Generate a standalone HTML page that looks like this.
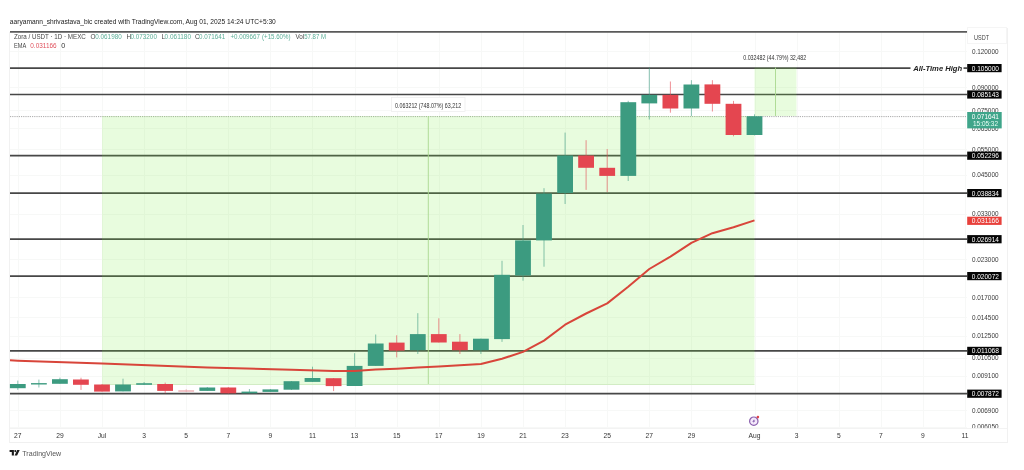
<!DOCTYPE html>
<html><head><meta charset="utf-8"><title>Zora / USDT chart</title>
<style>html,body{margin:0;padding:0;background:#fff;}body{width:1024px;height:470px;position:relative;overflow:hidden;}</style>
</head><body>
<svg width="1024" height="470" viewBox="0 0 1024 470" style="position:absolute;left:0;top:0" font-family="'Liberation Sans', Arial, sans-serif">
<line x1="9.5" y1="32" x2="9.5" y2="443" stroke="#f1f1f1"/>
<line x1="1007.5" y1="28" x2="1007.5" y2="443" stroke="#f1f1f1"/>
<rect x="967.5" y="27.5" width="39" height="16" fill="none" stroke="#f5f5f5"/>
<g stroke="#f7f8f7" stroke-width="1">
<line x1="18.5" y1="32" x2="18.5" y2="428"/>
<line x1="60.5" y1="32" x2="60.5" y2="428"/>
<line x1="102.5" y1="32" x2="102.5" y2="428"/>
<line x1="144.5" y1="32" x2="144.5" y2="428"/>
<line x1="186.5" y1="32" x2="186.5" y2="428"/>
<line x1="228.5" y1="32" x2="228.5" y2="428"/>
<line x1="270.5" y1="32" x2="270.5" y2="428"/>
<line x1="312.5" y1="32" x2="312.5" y2="428"/>
<line x1="355.5" y1="32" x2="355.5" y2="428"/>
<line x1="397.5" y1="32" x2="397.5" y2="428"/>
<line x1="439.5" y1="32" x2="439.5" y2="428"/>
<line x1="481.5" y1="32" x2="481.5" y2="428"/>
<line x1="523.5" y1="32" x2="523.5" y2="428"/>
<line x1="565.5" y1="32" x2="565.5" y2="428"/>
<line x1="607.5" y1="32" x2="607.5" y2="428"/>
<line x1="649.5" y1="32" x2="649.5" y2="428"/>
<line x1="691.5" y1="32" x2="691.5" y2="428"/>
<line x1="755.5" y1="32" x2="755.5" y2="428"/>
<line x1="797.5" y1="32" x2="797.5" y2="428"/>
<line x1="839.5" y1="32" x2="839.5" y2="428"/>
<line x1="881.5" y1="32" x2="881.5" y2="428"/>
<line x1="923.5" y1="32" x2="923.5" y2="428"/>
<line x1="965.5" y1="32" x2="965.5" y2="428"/>
<line x1="10" y1="51.5" x2="967" y2="51.5"/>
<line x1="10" y1="87.5" x2="967" y2="87.5"/>
<line x1="10" y1="110.5" x2="967" y2="110.5"/>
<line x1="10" y1="128.5" x2="967" y2="128.5"/>
<line x1="10" y1="149.5" x2="967" y2="149.5"/>
<line x1="10" y1="175.5" x2="967" y2="175.5"/>
<line x1="10" y1="214.5" x2="967" y2="214.5"/>
<line x1="10" y1="259.5" x2="967" y2="259.5"/>
<line x1="10" y1="297.5" x2="967" y2="297.5"/>
<line x1="10" y1="317.5" x2="967" y2="317.5"/>
<line x1="10" y1="336.5" x2="967" y2="336.5"/>
<line x1="10" y1="358.5" x2="967" y2="358.5"/>
<line x1="10" y1="376.5" x2="967" y2="376.5"/>
<line x1="10" y1="410.5" x2="967" y2="410.5"/>
<line x1="10" y1="427.5" x2="967" y2="427.5"/>
</g>
<line x1="10" y1="116.6" x2="967" y2="116.6" stroke="#aaaaaa" stroke-width="1" stroke-dasharray="1.2 1"/>
<line x1="10" y1="68.1" x2="910.5" y2="68.1" stroke="#474747" stroke-width="1.7"/>
<line x1="963.5" y1="68.1" x2="967" y2="68.1" stroke="#474747" stroke-width="1.7"/>
<line x1="10" y1="94.5" x2="967" y2="94.5" stroke="#474747" stroke-width="1.7"/>
<line x1="10" y1="155.7" x2="967" y2="155.7" stroke="#474747" stroke-width="1.7"/>
<line x1="10" y1="193.1" x2="967" y2="193.1" stroke="#474747" stroke-width="1.7"/>
<line x1="10" y1="239.2" x2="967" y2="239.2" stroke="#474747" stroke-width="1.7"/>
<line x1="10" y1="276.1" x2="967" y2="276.1" stroke="#474747" stroke-width="1.7"/>
<line x1="10" y1="350.9" x2="967" y2="350.9" stroke="#474747" stroke-width="1.7"/>
<line x1="10" y1="393.7" x2="967" y2="393.7" stroke="#474747" stroke-width="1.7"/>
<line x1="10" y1="31.95" x2="967" y2="31.95" stroke="#5a5a5a" stroke-width="1.8"/>
<rect x="102" y="116" width="652.5" height="268.5" fill="rgba(118,240,62,0.17)"/>
<rect x="754.5" y="67.5" width="42" height="48.5" fill="rgba(118,240,62,0.17)"/>
<line x1="102" y1="384.5" x2="754.5" y2="384.5" stroke="#d2ecc4" stroke-width="1"/>
<line x1="428.3" y1="116" x2="428.3" y2="384" stroke="#a9d88f" stroke-width="0.9"/>
<line x1="775.5" y1="67.5" x2="775.5" y2="116" stroke="#a9d88f" stroke-width="0.9"/>
<line x1="17.8" y1="380.6" x2="17.8" y2="389.9" stroke="#3c9b80" stroke-width="1" stroke-opacity="0.6"/>
<rect x="9.9" y="384.0" width="15.8" height="4.2" fill="#3c9b80"/>
<line x1="38.9" y1="379.6" x2="38.9" y2="387.5" stroke="#3c9b80" stroke-width="1" stroke-opacity="0.6"/>
<rect x="31.0" y="383.1" width="15.8" height="1.4" fill="#3c9b80"/>
<line x1="59.9" y1="377.7" x2="59.9" y2="383.8" stroke="#3c9b80" stroke-width="1" stroke-opacity="0.6"/>
<rect x="52.0" y="379.2" width="15.8" height="4.6" fill="#3c9b80"/>
<line x1="81.0" y1="377.7" x2="81.0" y2="389.9" stroke="#e44650" stroke-width="1" stroke-opacity="0.6"/>
<rect x="73.0" y="379.5" width="15.8" height="5.3" fill="#e44650"/>
<line x1="102.0" y1="384.0" x2="102.0" y2="391.6" stroke="#e44650" stroke-width="1" stroke-opacity="0.6"/>
<rect x="94.1" y="384.5" width="15.8" height="7.1" fill="#e44650"/>
<line x1="123.0" y1="378.7" x2="123.0" y2="391.4" stroke="#3c9b80" stroke-width="1" stroke-opacity="0.6"/>
<rect x="115.1" y="384.5" width="15.8" height="6.9" fill="#3c9b80"/>
<line x1="144.1" y1="382.0" x2="144.1" y2="385.0" stroke="#3c9b80" stroke-width="1" stroke-opacity="0.6"/>
<rect x="136.2" y="383.2" width="15.8" height="1.6" fill="#3c9b80"/>
<line x1="165.2" y1="382.6" x2="165.2" y2="393.3" stroke="#e44650" stroke-width="1" stroke-opacity="0.6"/>
<rect x="157.2" y="384.0" width="15.8" height="6.9" fill="#e44650"/>
<line x1="186.2" y1="389.0" x2="186.2" y2="392.0" stroke="#e9a0a6" stroke-width="1" stroke-opacity="0.6"/>
<rect x="178.3" y="390.4" width="15.8" height="1.2" fill="#e9a0a6"/>
<line x1="207.3" y1="387.0" x2="207.3" y2="391.0" stroke="#3c9b80" stroke-width="1" stroke-opacity="0.6"/>
<rect x="199.4" y="387.5" width="15.8" height="3.4" fill="#3c9b80"/>
<line x1="228.3" y1="387.0" x2="228.3" y2="393.5" stroke="#e44650" stroke-width="1" stroke-opacity="0.6"/>
<rect x="220.4" y="387.5" width="15.8" height="5.8" fill="#e44650"/>
<line x1="249.4" y1="389.0" x2="249.4" y2="393.3" stroke="#3c9b80" stroke-width="1" stroke-opacity="0.6"/>
<rect x="241.5" y="391.6" width="15.8" height="1.7" fill="#3c9b80"/>
<line x1="270.4" y1="389.0" x2="270.4" y2="392.0" stroke="#3c9b80" stroke-width="1" stroke-opacity="0.6"/>
<rect x="262.5" y="389.4" width="15.8" height="2.5" fill="#3c9b80"/>
<line x1="291.5" y1="381.0" x2="291.5" y2="390.0" stroke="#3c9b80" stroke-width="1" stroke-opacity="0.6"/>
<rect x="283.6" y="381.2" width="15.8" height="8.5" fill="#3c9b80"/>
<line x1="312.5" y1="366.7" x2="312.5" y2="382.0" stroke="#3c9b80" stroke-width="1" stroke-opacity="0.6"/>
<rect x="304.6" y="378.0" width="15.8" height="3.9" fill="#3c9b80"/>
<line x1="333.6" y1="378.0" x2="333.6" y2="391.1" stroke="#e44650" stroke-width="1" stroke-opacity="0.6"/>
<rect x="325.7" y="378.2" width="15.8" height="7.9" fill="#e44650"/>
<line x1="354.6" y1="353.2" x2="354.6" y2="386.0" stroke="#3c9b80" stroke-width="1" stroke-opacity="0.6"/>
<rect x="346.7" y="365.9" width="15.8" height="20.1" fill="#3c9b80"/>
<line x1="375.7" y1="334.5" x2="375.7" y2="366.0" stroke="#3c9b80" stroke-width="1" stroke-opacity="0.6"/>
<rect x="367.8" y="343.5" width="15.8" height="22.4" fill="#3c9b80"/>
<line x1="396.7" y1="335.3" x2="396.7" y2="357.4" stroke="#e44650" stroke-width="1" stroke-opacity="0.6"/>
<rect x="388.8" y="342.6" width="15.8" height="8.0" fill="#e44650"/>
<line x1="417.8" y1="313.2" x2="417.8" y2="354.0" stroke="#3c9b80" stroke-width="1" stroke-opacity="0.6"/>
<rect x="409.9" y="334.1" width="15.8" height="16.1" fill="#3c9b80"/>
<line x1="438.8" y1="318.3" x2="438.8" y2="342.5" stroke="#e44650" stroke-width="1" stroke-opacity="0.6"/>
<rect x="430.9" y="334.1" width="15.8" height="8.4" fill="#e44650"/>
<line x1="459.9" y1="334.1" x2="459.9" y2="354.0" stroke="#e44650" stroke-width="1" stroke-opacity="0.6"/>
<rect x="452.0" y="341.7" width="15.8" height="8.5" fill="#e44650"/>
<line x1="480.9" y1="338.7" x2="480.9" y2="354.0" stroke="#3c9b80" stroke-width="1" stroke-opacity="0.6"/>
<rect x="473.0" y="338.7" width="15.8" height="11.5" fill="#3c9b80"/>
<line x1="502.0" y1="260.8" x2="502.0" y2="341.9" stroke="#3c9b80" stroke-width="1" stroke-opacity="0.6"/>
<rect x="494.1" y="274.8" width="15.8" height="64.3" fill="#3c9b80"/>
<line x1="523.0" y1="225.0" x2="523.0" y2="280.7" stroke="#3c9b80" stroke-width="1" stroke-opacity="0.6"/>
<rect x="515.1" y="240.4" width="15.8" height="35.1" fill="#3c9b80"/>
<line x1="544.0" y1="188.2" x2="544.0" y2="266.7" stroke="#3c9b80" stroke-width="1" stroke-opacity="0.6"/>
<rect x="536.1" y="193.6" width="15.8" height="46.8" fill="#3c9b80"/>
<line x1="565.1" y1="132.6" x2="565.1" y2="204.0" stroke="#3c9b80" stroke-width="1" stroke-opacity="0.6"/>
<rect x="557.2" y="155.5" width="15.8" height="37.4" fill="#3c9b80"/>
<line x1="586.1" y1="140.2" x2="586.1" y2="189.9" stroke="#e44650" stroke-width="1" stroke-opacity="0.6"/>
<rect x="578.2" y="155.5" width="15.8" height="12.3" fill="#e44650"/>
<line x1="607.2" y1="149.0" x2="607.2" y2="192.1" stroke="#e44650" stroke-width="1" stroke-opacity="0.6"/>
<rect x="599.3" y="167.8" width="15.8" height="8.1" fill="#e44650"/>
<line x1="628.2" y1="100.8" x2="628.2" y2="181.0" stroke="#3c9b80" stroke-width="1" stroke-opacity="0.6"/>
<rect x="620.4" y="102.2" width="15.8" height="73.7" fill="#3c9b80"/>
<line x1="649.3" y1="67.5" x2="649.3" y2="119.5" stroke="#3c9b80" stroke-width="1" stroke-opacity="0.6"/>
<rect x="641.4" y="94.9" width="15.8" height="8.5" fill="#3c9b80"/>
<line x1="670.4" y1="81.5" x2="670.4" y2="112.7" stroke="#e44650" stroke-width="1" stroke-opacity="0.6"/>
<rect x="662.5" y="94.9" width="15.8" height="13.6" fill="#e44650"/>
<line x1="691.4" y1="80.2" x2="691.4" y2="116.1" stroke="#3c9b80" stroke-width="1" stroke-opacity="0.6"/>
<rect x="683.5" y="84.5" width="15.8" height="24.0" fill="#3c9b80"/>
<line x1="712.4" y1="80.2" x2="712.4" y2="111.5" stroke="#e44650" stroke-width="1" stroke-opacity="0.6"/>
<rect x="704.5" y="84.4" width="15.8" height="19.4" fill="#e44650"/>
<line x1="733.5" y1="100.9" x2="733.5" y2="136.3" stroke="#e44650" stroke-width="1" stroke-opacity="0.6"/>
<rect x="725.6" y="103.8" width="15.8" height="31.2" fill="#e44650"/>
<line x1="754.5" y1="114.3" x2="754.5" y2="135.4" stroke="#3c9b80" stroke-width="1" stroke-opacity="0.6"/>
<rect x="746.6" y="116.2" width="15.8" height="18.8" fill="#3c9b80"/>
<polyline points="10.0,360.3 17.8,360.7 102.0,363.4 207.3,367.4 291.5,369.7 333.6,371.0 354.6,371.1 375.7,369.6 396.7,368.7 417.8,367.6 438.8,366.6 459.9,365.3 480.9,364.0 502.0,358.8 523.0,351.9 544.0,340.6 565.1,324.7 586.1,313.5 607.2,303.4 628.2,286.8 649.3,269.0 670.4,256.7 691.4,242.9 712.4,233.2 733.5,227.3 754.5,220.4" fill="none" stroke="#d8453a" stroke-width="2.0" stroke-linejoin="round"/>
<text x="998.5" y="53.8" font-size="6.9" fill="#3a3a3a" text-anchor="end" textLength="26.6" lengthAdjust="spacingAndGlyphs" >0.120000</text>
<text x="998.5" y="90.0" font-size="6.9" fill="#3a3a3a" text-anchor="end" textLength="26.6" lengthAdjust="spacingAndGlyphs" >0.090000</text>
<text x="998.5" y="112.9" font-size="6.9" fill="#3a3a3a" text-anchor="end" textLength="26.6" lengthAdjust="spacingAndGlyphs" >0.075000</text>
<text x="998.5" y="130.9" font-size="6.9" fill="#3a3a3a" text-anchor="end" textLength="26.6" lengthAdjust="spacingAndGlyphs" >0.065000</text>
<text x="998.5" y="151.9" font-size="6.9" fill="#3a3a3a" text-anchor="end" textLength="26.6" lengthAdjust="spacingAndGlyphs" >0.055000</text>
<text x="998.5" y="177.1" font-size="6.9" fill="#3a3a3a" text-anchor="end" textLength="26.6" lengthAdjust="spacingAndGlyphs" >0.045000</text>
<text x="998.5" y="216.1" font-size="6.9" fill="#3a3a3a" text-anchor="end" textLength="26.6" lengthAdjust="spacingAndGlyphs" >0.033000</text>
<text x="998.5" y="261.5" font-size="6.9" fill="#3a3a3a" text-anchor="end" textLength="26.6" lengthAdjust="spacingAndGlyphs" >0.023000</text>
<text x="998.5" y="299.5" font-size="6.9" fill="#3a3a3a" text-anchor="end" textLength="26.6" lengthAdjust="spacingAndGlyphs" >0.017000</text>
<text x="998.5" y="319.5" font-size="6.9" fill="#3a3a3a" text-anchor="end" textLength="26.6" lengthAdjust="spacingAndGlyphs" >0.014500</text>
<text x="998.5" y="338.1" font-size="6.9" fill="#3a3a3a" text-anchor="end" textLength="26.6" lengthAdjust="spacingAndGlyphs" >0.012500</text>
<text x="998.5" y="360.0" font-size="6.9" fill="#3a3a3a" text-anchor="end" textLength="26.6" lengthAdjust="spacingAndGlyphs" >0.010500</text>
<text x="998.5" y="378.0" font-size="6.9" fill="#3a3a3a" text-anchor="end" textLength="26.6" lengthAdjust="spacingAndGlyphs" >0.009100</text>
<text x="998.5" y="412.8" font-size="6.9" fill="#3a3a3a" text-anchor="end" textLength="26.6" lengthAdjust="spacingAndGlyphs" >0.006900</text>
<text x="998.5" y="429.3" font-size="6.9" fill="#3a3a3a" text-anchor="end" textLength="26.6" lengthAdjust="spacingAndGlyphs" >0.006050</text>
<text x="981.5" y="39.9" font-size="6.6" fill="#444" text-anchor="middle" textLength="15" lengthAdjust="spacingAndGlyphs" >USDT</text>
<rect x="967.2" y="64.0" width="34.4" height="8.2" fill="#050505"/>
<text x="999" y="70.6" font-size="6.9" fill="#fff" text-anchor="end" textLength="27.2" lengthAdjust="spacingAndGlyphs" >0.105000</text>
<rect x="967.2" y="90.4" width="34.4" height="8.2" fill="#050505"/>
<text x="999" y="97.0" font-size="6.9" fill="#fff" text-anchor="end" textLength="27.2" lengthAdjust="spacingAndGlyphs" >0.085143</text>
<rect x="967.2" y="151.6" width="34.4" height="8.2" fill="#050505"/>
<text x="999" y="158.2" font-size="6.9" fill="#fff" text-anchor="end" textLength="27.2" lengthAdjust="spacingAndGlyphs" >0.052296</text>
<rect x="967.2" y="189.0" width="34.4" height="8.2" fill="#050505"/>
<text x="999" y="195.6" font-size="6.9" fill="#fff" text-anchor="end" textLength="27.2" lengthAdjust="spacingAndGlyphs" >0.038834</text>
<rect x="967.2" y="235.1" width="34.4" height="8.2" fill="#050505"/>
<text x="999" y="241.7" font-size="6.9" fill="#fff" text-anchor="end" textLength="27.2" lengthAdjust="spacingAndGlyphs" >0.026914</text>
<rect x="967.2" y="272.0" width="34.4" height="8.2" fill="#050505"/>
<text x="999" y="278.6" font-size="6.9" fill="#fff" text-anchor="end" textLength="27.2" lengthAdjust="spacingAndGlyphs" >0.020072</text>
<rect x="967.2" y="346.8" width="34.4" height="8.2" fill="#050505"/>
<text x="999" y="353.4" font-size="6.9" fill="#fff" text-anchor="end" textLength="27.2" lengthAdjust="spacingAndGlyphs" >0.011068</text>
<rect x="967.2" y="389.6" width="34.4" height="8.2" fill="#050505"/>
<text x="999" y="396.2" font-size="6.9" fill="#fff" text-anchor="end" textLength="27.2" lengthAdjust="spacingAndGlyphs" >0.007872</text>
<rect x="967.2" y="216.7" width="34.4" height="8.2" fill="#e8403b"/>
<text x="999" y="223.3" font-size="6.9" fill="#fff" text-anchor="end" textLength="27.2" lengthAdjust="spacingAndGlyphs" >0.031166</text>
<rect x="967.2" y="112" width="34.5" height="16.4" fill="#3fa58a"/>
<text x="999" y="118.9" font-size="6.9" fill="#fff" text-anchor="end" textLength="27.2" lengthAdjust="spacingAndGlyphs" >0.071641</text>
<text x="998" y="126.2" font-size="6.9" fill="#e8fff6" text-anchor="end" textLength="25" lengthAdjust="spacingAndGlyphs" >15:05:32</text>
<text x="913.2" y="70.6" font-size="7.6" fill="#222" text-anchor="start" textLength="49" lengthAdjust="spacingAndGlyphs" font-weight="bold" font-style="italic">All-Time High</text>
<rect x="391.5" y="97.5" width="73.5" height="14" fill="#fff" stroke="#eeeeee" stroke-width="0.8"/>
<text x="395.1" y="108.2" font-size="6.3" fill="#333" text-anchor="start" textLength="66" lengthAdjust="spacingAndGlyphs" >0.063212 (748.07%) 63,212</text>
<text x="743.2" y="59.6" font-size="6.3" fill="#333" text-anchor="start" textLength="63" lengthAdjust="spacingAndGlyphs" >0.032482 (44.79%) 32,482</text>
<line x1="10" y1="428.5" x2="1007" y2="428.5" stroke="#f3f3f3"/>
<line x1="9.5" y1="442.5" x2="1008" y2="442.5" stroke="#f0f0f0"/>
<text x="17.8" y="438.0" font-size="6.7" fill="#333" text-anchor="middle" >27</text>
<text x="59.9" y="438.0" font-size="6.7" fill="#333" text-anchor="middle" >29</text>
<text x="102.0" y="438.0" font-size="6.7" fill="#333" text-anchor="middle" >Jul</text>
<text x="144.1" y="438.0" font-size="6.7" fill="#333" text-anchor="middle" >3</text>
<text x="186.2" y="438.0" font-size="6.7" fill="#333" text-anchor="middle" >5</text>
<text x="228.3" y="438.0" font-size="6.7" fill="#333" text-anchor="middle" >7</text>
<text x="270.4" y="438.0" font-size="6.7" fill="#333" text-anchor="middle" >9</text>
<text x="312.5" y="438.0" font-size="6.7" fill="#333" text-anchor="middle" >11</text>
<text x="354.6" y="438.0" font-size="6.7" fill="#333" text-anchor="middle" >13</text>
<text x="396.7" y="438.0" font-size="6.7" fill="#333" text-anchor="middle" >15</text>
<text x="438.8" y="438.0" font-size="6.7" fill="#333" text-anchor="middle" >17</text>
<text x="480.9" y="438.0" font-size="6.7" fill="#333" text-anchor="middle" >19</text>
<text x="523.0" y="438.0" font-size="6.7" fill="#333" text-anchor="middle" >21</text>
<text x="565.1" y="438.0" font-size="6.7" fill="#333" text-anchor="middle" >23</text>
<text x="607.2" y="438.0" font-size="6.7" fill="#333" text-anchor="middle" >25</text>
<text x="649.3" y="438.0" font-size="6.7" fill="#333" text-anchor="middle" >27</text>
<text x="691.4" y="438.0" font-size="6.7" fill="#333" text-anchor="middle" >29</text>
<text x="754.5" y="438.0" font-size="6.7" fill="#333" text-anchor="middle" >Aug</text>
<text x="796.6" y="438.0" font-size="6.7" fill="#333" text-anchor="middle" >3</text>
<text x="838.8" y="438.0" font-size="6.7" fill="#333" text-anchor="middle" >5</text>
<text x="880.9" y="438.0" font-size="6.7" fill="#333" text-anchor="middle" >7</text>
<text x="922.9" y="438.0" font-size="6.7" fill="#333" text-anchor="middle" >9</text>
<text x="965.0" y="438.0" font-size="6.7" fill="#333" text-anchor="middle" >11</text>
<rect x="748" y="415" width="12" height="12" fill="#fff"/>
<g transform="translate(753.8,421.2)">
<circle r="4.2" fill="#f4e9fb" stroke="#8a5fae" stroke-width="1.2"/>
<path d="M0.9,-2.6 L-1.5,0.5 L0.1,0.5 L-0.9,2.6 L1.5,-0.6 L-0.1,-0.6 Z" fill="#7a4fa6"/>
<circle cx="4.1" cy="-4.1" r="1.3" fill="#e0454a"/>
</g>
<text x="9.8" y="23.8" font-size="6.8" fill="#222" text-anchor="start" textLength="266" lengthAdjust="spacingAndGlyphs" >aaryamann_shrivastava_bic created with TradingView.com, Aug 01, 2025 14:24 UTC+5:30</text>
<text x="13.9" y="38.8" font-size="6.4" fill="#474747" text-anchor="start" textLength="72" lengthAdjust="spacingAndGlyphs" >Zora / USDT · 1D · MEXC</text>
<text x="90.6" y="38.8" font-size="6.4" fill="#474747" text-anchor="start" >O</text>
<text x="95.3" y="38.8" font-size="6.4" fill="#5aae97" text-anchor="start" textLength="26.4" lengthAdjust="spacingAndGlyphs" >0.061980</text>
<text x="126.6" y="38.8" font-size="6.4" fill="#474747" text-anchor="start" >H</text>
<text x="130.5" y="38.8" font-size="6.4" fill="#5aae97" text-anchor="start" textLength="26.4" lengthAdjust="spacingAndGlyphs" >0.073200</text>
<text x="161.4" y="38.8" font-size="6.4" fill="#474747" text-anchor="start" >L</text>
<text x="164.6" y="38.8" font-size="6.4" fill="#5aae97" text-anchor="start" textLength="26.4" lengthAdjust="spacingAndGlyphs" >0.061180</text>
<text x="195" y="38.8" font-size="6.4" fill="#474747" text-anchor="start" >C</text>
<text x="199.1" y="38.8" font-size="6.4" fill="#5aae97" text-anchor="start" textLength="26" lengthAdjust="spacingAndGlyphs" >0.071641</text>
<text x="230.4" y="38.8" font-size="6.4" fill="#5aae97" text-anchor="start" textLength="29.5" lengthAdjust="spacingAndGlyphs" >+0.009667</text>
<text x="262" y="38.8" font-size="6.4" fill="#5aae97" text-anchor="start" textLength="28.5" lengthAdjust="spacingAndGlyphs" >(+15.60%)</text>
<text x="295.4" y="38.8" font-size="6.4" fill="#474747" text-anchor="start" textLength="8.8" lengthAdjust="spacingAndGlyphs" >Vol</text>
<text x="304.2" y="38.8" font-size="6.4" fill="#5aae97" text-anchor="start" textLength="21.8" lengthAdjust="spacingAndGlyphs" >57.87 M</text>
<text x="13.9" y="47.6" font-size="6.4" fill="#474747" text-anchor="start" textLength="12.3" lengthAdjust="spacingAndGlyphs" >EMA</text>
<text x="30.3" y="47.6" font-size="6.4" fill="#e0505c" text-anchor="start" textLength="26.3" lengthAdjust="spacingAndGlyphs" >0.031166</text>
<text x="61.3" y="47.6" font-size="6.6" fill="#333" text-anchor="start" textLength="4" lengthAdjust="spacingAndGlyphs" >0</text>
<g transform="translate(9.6,450.1)" fill="#1a1a1a">
<path d="M0,0 H4.3 V5.5 H2.2 V1.9 H0 Z"/>
<circle cx="5.7" cy="1" r="1.05"/>
<path d="M7.6,0 H10.1 L7.5,5.5 H5 Z"/>
</g>
<text x="22.3" y="455.6" font-size="7.4" fill="#555" text-anchor="start" textLength="38.9" lengthAdjust="spacingAndGlyphs" >TradingView</text>
</svg>
</body></html>
